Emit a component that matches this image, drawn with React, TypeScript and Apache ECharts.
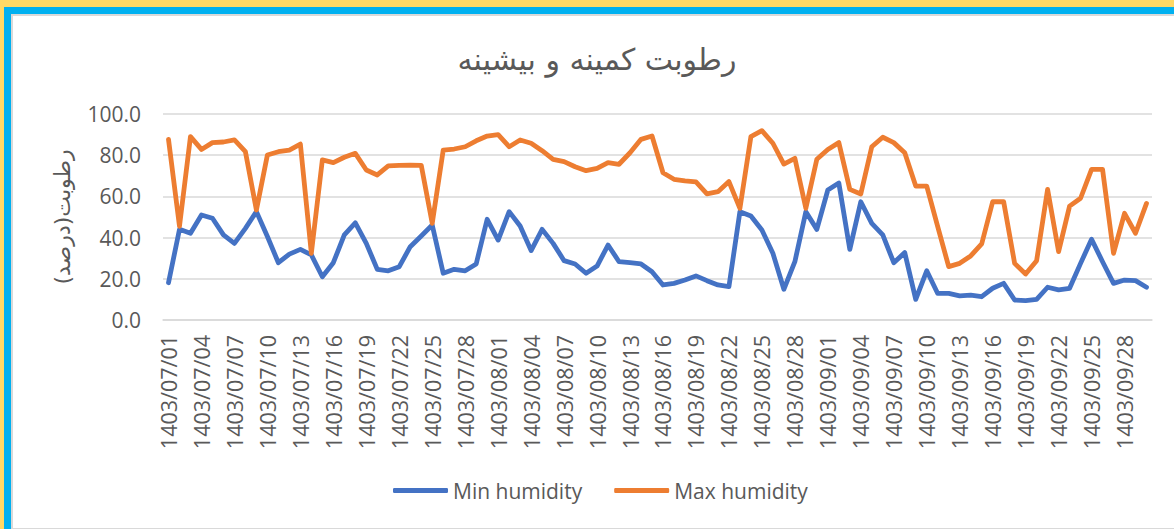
import React, { useEffect, useRef } from "react";
import * as echarts from "echarts";

const TITLE = "رطوبت کمینه و بیشینه";
const Y_NAME = "رطوبت(درصد)";
const SERIES_MIN_NAME = "Min humidity";
const SERIES_MAX_NAME = "Max humidity";
const YEAR = "1403";
const MONTHS = ["07", "08", "09"];
const DAYS_PER_MONTH = 30;

const minHumidity = [
  18.1, 44.0, 42.1, 51.0, 49.4, 41.3, 37.2, 44.5, 52.6, 40.5,
  27.8, 32.0, 34.3, 31.6, 21.0, 27.8, 41.3, 47.2, 37.2, 24.6,
  23.9, 25.9, 35.6, 40.8, 46.1, 22.7, 24.6, 23.9, 27.2, 48.9,
  38.8, 52.6, 45.6, 33.7, 44.0, 37.2, 28.8, 27.2, 22.7, 26.2,
  36.4, 28.3, 27.8, 27.2, 23.4, 17.0, 17.8, 19.4, 21.4, 19.1,
  17.0, 16.2, 52.6, 50.5, 43.7, 32.4, 14.9, 28.3, 52.6, 44.0,
  63.1, 66.5, 34.3, 57.4, 46.9, 41.3, 27.8, 32.7, 10.0, 23.9,
  12.9, 12.9, 11.7, 12.1, 11.3, 15.4, 17.8, 9.7, 9.4, 10.0,
  15.9, 14.6, 15.4, 27.5, 39.2, 28.3, 17.8, 19.4, 19.1, 15.9,
];

const maxHumidity = [
  87.7, 45.5, 89.0, 82.8, 86.1, 86.4, 87.4, 81.7, 53.4, 80.1,
  81.7, 82.5, 85.4, 32.4, 77.7, 76.4, 79.0, 80.9, 72.8, 70.4,
  74.8, 75.1, 75.2, 75.1, 46.9, 82.5, 83.0, 84.1, 87.0, 89.3,
  90.0, 84.1, 87.4, 85.8, 82.2, 78.0, 76.9, 74.4, 72.5, 73.6,
  76.4, 75.6, 81.2, 87.7, 89.3, 71.5, 68.3, 67.5, 67.0, 61.2,
  62.3, 67.2, 54.2, 89.0, 91.9, 85.8, 75.7, 78.5, 54.2, 78.0,
  82.8, 86.1, 63.4, 61.2, 84.1, 88.7, 86.1, 81.2, 65.0, 65.0,
  45.3, 25.9, 27.5, 31.1, 36.9, 57.4, 57.4, 27.5, 22.3, 28.8,
  63.4, 33.2, 55.3, 59.1, 73.1, 73.1, 32.4, 51.8, 42.1, 56.6,
];

const dates: string[] = [];
for (const m of MONTHS) {
  for (let d = 1; d <= DAYS_PER_MONTH; d++) {
    dates.push(`${YEAR}/${m}/${d < 10 ? "0" + d : d}`);
  }
}

const TEXT_COLOR = "#595959";
const GRID_COLOR = "#D9D9D9";
const BLUE = "#4472C4";
const ORANGE = "#ED7D31";

export default function App() {
  const ref = useRef<HTMLDivElement>(null);

  useEffect(() => {
    if (!ref.current) return;
    const chart = echarts.init(ref.current, null, { renderer: "svg" });
    chart.setOption({
      animation: false,
      backgroundColor: "transparent",
      graphic: [
        {
          type: "text",
          x: 597,
          y: 59,
          style: {
            text: TITLE,
            fill: TEXT_COLOR,
            fontSize: 30,
            fontFamily: "DejaVu Sans",
            align: "center",
            verticalAlign: "middle",
          },
        },
      ],
      legend: {
        left: 393,
        top: 480,
        padding: 0,
        itemWidth: 55,
        itemHeight: 5,
        itemGap: 32,
        icon: "roundRect",
        textStyle: { color: TEXT_COLOR, fontSize: 21, fontFamily: "Open Sans" },
        data: [SERIES_MIN_NAME, SERIES_MAX_NAME],
      },
      grid: { left: 163, right: 22, top: 114, bottom: 209, containLabel: false },
      xAxis: {
        type: "category",
        data: dates,
        boundaryGap: true,
        axisLine: { show: true, lineStyle: { color: GRID_COLOR, width: 1.5 } },
        axisTick: { show: false },
        axisLabel: {
          interval: 2,
          rotate: 90,
          margin: 15,
          color: TEXT_COLOR,
          fontSize: 21.5,
          fontFamily: "Open Sans",
        },
      },
      yAxis: {
        type: "value",
        min: 0,
        max: 100,
        interval: 20,
        name: Y_NAME,
        nameLocation: "middle",
        nameGap: 90,
        nameTextStyle: { color: TEXT_COLOR, fontSize: 22, fontFamily: "DejaVu Sans" },
        axisLine: { show: false },
        axisTick: { show: false },
        axisLabel: {
          margin: 22,
          color: TEXT_COLOR,
          fontSize: 21,
          fontFamily: "Open Sans",
          formatter: (v: number) => v.toFixed(1),
        },
        splitLine: { lineStyle: { color: GRID_COLOR, width: 1.5 } },
      },
      series: [
        {
          name: SERIES_MIN_NAME,
          type: "line",
          data: minHumidity,
          showSymbol: false,
          symbol: "none",
          lineStyle: { color: BLUE, width: 4.8, join: "round", cap: "round" },
          itemStyle: { color: BLUE },
        },
        {
          name: SERIES_MAX_NAME,
          type: "line",
          data: maxHumidity,
          showSymbol: false,
          symbol: "none",
          lineStyle: { color: ORANGE, width: 4.8, join: "round", cap: "round" },
          itemStyle: { color: ORANGE },
        },
      ],
    });
    return () => chart.dispose();
  }, []);

  return (
    <div
      style={{
        position: "fixed",
        left: 0,
        top: 0,
        width: 1174,
        height: 529,
        background: "#FFD966",
        overflow: "hidden",
      }}
    >
      <div style={{ position: "absolute", left: 4, top: 7, right: 0, bottom: 0, background: "#00B0F0" }} />
      <div style={{ position: "absolute", left: 11, top: 14, right: 0, bottom: 0, background: "#D9D9D9" }} />
      <div style={{ position: "absolute", left: 12.5, top: 15.5, right: 0, bottom: 1, background: "#FFFFFF" }} />
      <div ref={ref} style={{ position: "absolute", left: 0, top: 0, width: 1174, height: 529 }} />
    </div>
  );
}
